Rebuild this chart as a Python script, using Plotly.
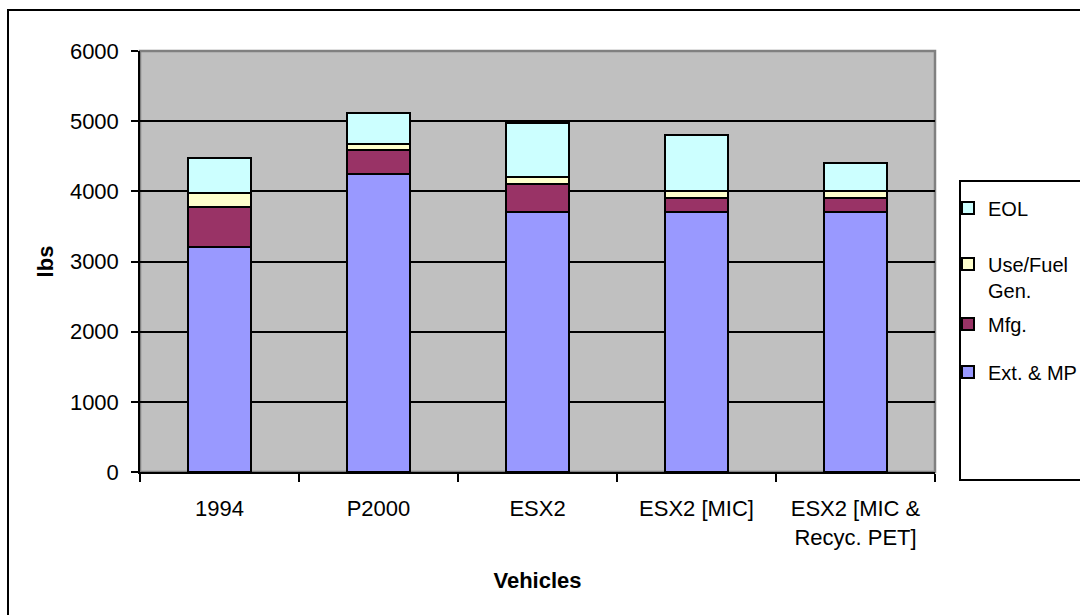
import plotly.graph_objects as go

# Vehicle life-cycle mass breakdown (lbs)
vehicles = ["1994", "P2000", "ESX2", "ESX2 [MIC]", "ESX2 [MIC &<br>Recyc. PET]"]
ext_mp = [3200, 4250, 3710, 3710, 3710]
mfg = [570, 340, 400, 200, 200]
use_fuel = [200, 90, 90, 90, 90]
eol = [510, 430, 775, 800, 405]

series = [
    ("Ext. & MP", ext_mp, "#9999FF", "legend4"),
    ("Mfg.", mfg, "#993366", "legend3"),
    ("Use/Fuel<br>Gen.", use_fuel, "#FFFFCC", "legend2"),
    ("EOL", eol, "#CCFFFF", "legend"),
]

FONT = "Arial, 'Liberation Sans', sans-serif"

fig = go.Figure()
for name, vals, color, leg in series:
    fig.add_trace(go.Bar(
        x=vehicles, y=vals, name=name, legend=leg,
        marker=dict(color=color, line=dict(color="black", width=2)),
        hoverinfo="skip",
    ))

# plot-area geometry in pixels, used to place paper-referenced items
W, H = 1080, 615
L, R, T, B = 140, 935, 51, 472
def px(x):
    return (x - L) / (R - L)
def py(y):
    return (B - y) / (B - T)

legend_common = dict(
    xanchor="left", yanchor="middle", x=px(948),
    bgcolor="rgba(0,0,0,0)", borderwidth=0, valign="top",
    font=dict(family=FONT, size=20, color="black"),
    itemclick=False, itemdoubleclick=False,
)

fig.update_layout(
    width=W, height=H,
    margin=dict(l=L, r=W - R, t=T, b=H - B, autoexpand=False),
    paper_bgcolor="white",
    plot_bgcolor="#C0C0C0",
    barmode="stack",
    bargap=0.6,
    showlegend=True,
    font=dict(family=FONT, size=22, color="black"),
    legend=dict(legend_common, y=py(208)),
    legend2=dict(legend_common, y=py(277)),
    legend3=dict(legend_common, y=py(324)),
    legend4=dict(legend_common, y=py(372)),
    xaxis=dict(
        title=dict(text="<b>Vehicles</b>", font=dict(size=22), standoff=24),
        showline=True, linecolor="black", linewidth=1.5,
        ticks="outside", tickson="boundaries", ticklen=8, tickwidth=1.5,
        tickcolor="black", showgrid=False, automargin=False,
        tickfont=dict(size=22), ticklabelstandoff=16,
    ),
    yaxis=dict(
        title=dict(text="<b>lbs</b>", font=dict(size=22), standoff=10),
        range=[0, 6000], dtick=1000,
        showline=True, linecolor="black", linewidth=1.5,
        ticks="outside", ticklen=7, tickwidth=1.5, tickcolor="black",
        showgrid=True, gridcolor="black", gridwidth=1.5,
        zeroline=False, automargin=False,
        tickfont=dict(size=22), ticklabelstandoff=8,
    ),
    shapes=[
        # plot-area border (top/right)
        dict(type="rect", xref="paper", yref="paper", x0=0, x1=1, y0=0, y1=1,
             line=dict(color="#808080", width=2.5), layer="below"),
        # outer chart frame
        dict(type="rect", xref="paper", yref="paper",
             x0=px(8), x1=px(1200), y0=py(700), y1=py(10),
             line=dict(color="black", width=2)),
        # legend box
        dict(type="rect", xref="paper", yref="paper",
             x0=px(960), x1=px(1200), y0=py(480), y1=py(181),
             line=dict(color="black", width=2)),
    ],
)

fig.write_html("out.html")
